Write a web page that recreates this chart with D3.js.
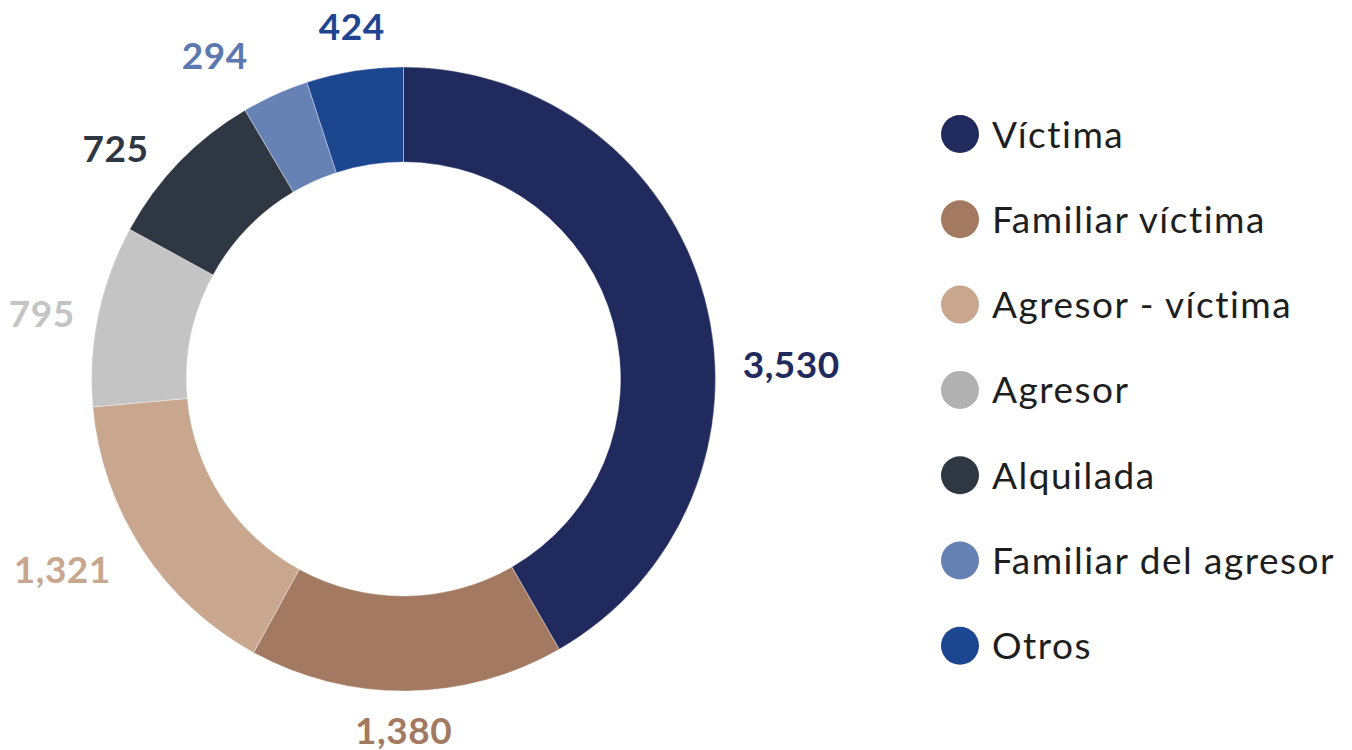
<!DOCTYPE html>
<html>
<head>
<meta charset="utf-8">
<script src="https://cdn.jsdelivr.net/npm/d3@7"></script>
<style>
  html, body { margin: 0; padding: 0; background: #ffffff; }
  svg { display: block; }
</style>
</head>
<body>
<svg id="chart" width="1352" height="750"></svg>
<script>
// Relationship categories and counts
const categories = ["Víctima", "Familiar víctima", "Agresor - víctima", "Agresor", "Alquilada", "Familiar del agresor", "Otros"];
const values = [3530, 1380, 1321, 795, 725, 294, 424];

// Slice colours, legend swatch colours and value-label colours
const sliceColors = ["#212a5c", "#a37a61", "#c9a78f", "#c4c4c4", "#2e3742", "#6682b5", "#1c4690"];
const swatchColors = ["#212a5c", "#a37a61", "#c9a78f", "#b1b1b1", "#2e3742", "#6682b5", "#1c4690"];
const labelColors = ["#212a5c", "#a37a61", "#c9a78f", "#c4c4c4", "#2e3742", "#5b78b0", "#1f4590"];

const svg = d3.select("#chart");
const cx = 403.5, cy = 379;
const outerR = 312, innerR = 217;

const data = categories.map((c, i) => ({ category: c, value: values[i], i }));

const pie = d3.pie().value(d => d.value).sort(null);
const arc = d3.arc().innerRadius(innerR).outerRadius(outerR);
const arcs = pie(data);

const g = svg.append("g").attr("transform", `translate(${cx},${cy})`);

g.selectAll("path.slice")
  .data(arcs)
  .join("path")
  .attr("class", "slice")
  .attr("d", arc)
  .attr("fill", d => sliceColors[d.data.i])
  .attr("stroke", "rgba(255,255,255,0.6)")
  .attr("stroke-width", 0.6);

// Value labels outside the ring, near each slice's mid-angle.
// Small angular nudges (degrees) keep the labels clear of each other.
const fmt = d3.format(",");
const labelGap = 27;
const labelNudgeDeg = [12.7, 0.6, 4.2, -1.3, -5.3, -5.9, 0.7];
const labelExtraR = [0, -3, 2, -6, -4, 8, 0];

const labels = g.selectAll("text.val")
  .data(arcs)
  .join("text")
  .attr("class", "val")
  .attr("text-anchor", "middle")
  .attr("dominant-baseline", "central")
  .style("font-family", "Lato, 'Open Sans', sans-serif")
  .style("font-weight", 700)
  .style("font-size", "37px")
  .style("letter-spacing", "0.5px")
  .attr("fill", d => labelColors[d.data.i])
  .text(d => fmt(d.data.value));

labels.each(function(d) {
  const bb = this.getBBox();
  const a = (d.startAngle + d.endAngle) / 2 + labelNudgeDeg[d.data.i] * Math.PI / 180;
  const s = Math.sin(a), c = Math.cos(a);
  const halfW = bb.width / 2, halfH = 14;
  const r = outerR + labelGap + Math.abs(s) * halfW + Math.abs(c) * halfH + labelExtraR[d.data.i];
  d3.select(this).attr("x", r * s).attr("y", -r * c);
});

// Legend
const legend = svg.append("g").attr("transform", "translate(960,134)");
const step = 85.3;
const items = legend.selectAll("g.item")
  .data(data)
  .join("g")
  .attr("class", "item")
  .attr("transform", (d, i) => `translate(0,${i * step})`);

items.append("circle")
  .attr("r", 19)
  .attr("fill", d => swatchColors[d.i]);

items.append("text")
  .attr("x", 32)
  .attr("y", -1)
  .attr("dominant-baseline", "central")
  .style("font-family", "Lato, 'Open Sans', sans-serif")
  .style("font-size", "37px")
  .style("letter-spacing", "1.5px")
  .attr("fill", "#1e1e1e")
  .text(d => d.category);
</script>
</body>
</html>
